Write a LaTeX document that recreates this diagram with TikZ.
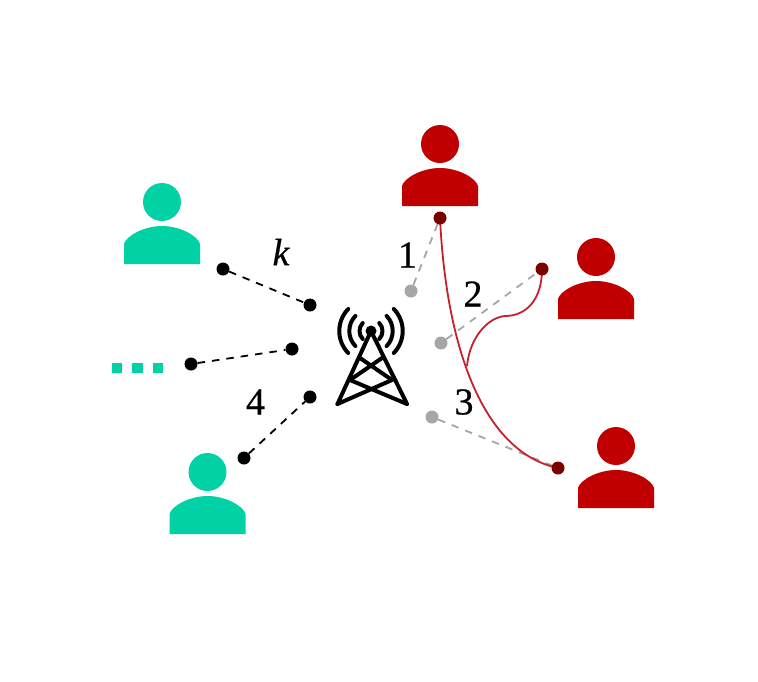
\documentclass[tikz,border=0pt]{standalone}
\usepackage{fontspec}
\newfontfamily\labelfont[FakeBold=0.6]{Liberation Serif}
\definecolor{userred}{HTML}{C00000}
\definecolor{userteal}{HTML}{00D2A6}
\definecolor{linkred}{HTML}{C8202A}
\definecolor{dotdark}{HTML}{7B0000}
\definecolor{dotgrey}{HTML}{A6A6A6}
\tikzset{
  person/.pic={
    \fill[pic actions] (0,0) circle[radius=19];
    \fill[pic actions] (-38,62) -- (-38,42) .. controls (-36,34) and (-18,24) .. (0,24)
       .. controls (18,24) and (36,34) .. (38,42) -- (38,62) -- cycle;
  },
  blackdot/.style={circle,fill=black,inner sep=0pt,minimum size=13pt},
  greydot/.style={circle,fill=dotgrey,inner sep=0pt,minimum size=13pt},
  reddot/.style={circle,fill=dotdark,inner sep=0pt,minimum size=13pt},
  blacklink/.style={black,line width=1.8pt,dash pattern=on 7.5pt off 7pt},
  greylink/.style={dotgrey,line width=1.8pt,dash pattern=on 7.5pt off 7pt},
  redlink/.style={linkred,line width=1.8pt},
  towerline/.style={black,line width=4pt,line cap=round,line join=round},
  numlabel/.style={font=\labelfont\fontsize{38}{38}\selectfont,inner sep=0pt,text=black},
  etc/.style={fill=userteal,draw=none,inner sep=0pt,minimum size=10.5pt},
}
\begin{document}
\begin{tikzpicture}[x=1pt,y=-1pt]
\useasboundingbox (0,0) rectangle (758,681);
% users
\pic[fill=userteal] at (162,202) {person};
\pic[fill=userteal] at (207.5,472) {person};
\pic[fill=userred] at (440,144) {person};
\pic[fill=userred] at (596,257) {person};
\pic[fill=userred] at (616,446) {person};
% ellipsis squares
\node[etc] (s1) at (117,368) {};
\node[etc] (s2) at (137.5,368) {};
\node[etc] (s3) at (158,368) {};
% end points
\node[blackdot] (ka) at (223,269) {};
\node[blackdot] (kb) at (310,305) {};
\node[blackdot] (da) at (191,364) {};
\node[blackdot] (db) at (292,349) {};
\node[blackdot] (fa) at (244,458) {};
\node[blackdot] (fb) at (310,397) {};
\node[greydot] (g1) at (411,291) {};
\node[greydot] (g2) at (441,343) {};
\node[greydot] (g3) at (432,417) {};
\coordinate (r1) at (440,218);
\coordinate (r2) at (542,269);
\coordinate (r3) at (558,468);
\coordinate (join) at (467,366);
\coordinate (bend) at (505,316);
% dashed links
\draw[blacklink] (ka) -- (kb);
\draw[blacklink] (da) -- (db);
\draw[blacklink] (fa) -- (fb);
\draw[greylink] (g1) -- (r1);
\draw[greylink] (g2) -- (r2);
\draw[greylink] (g3) -- (r3);
% interference curves
\draw[redlink] (r1) .. controls (446,345) and (482,452) .. (r3);
\draw[redlink] (join) .. controls (470,335) and (490,317) .. (bend)
   .. controls (526,316) and (542,300) .. (r2);
\node[reddot] (rd1) at (r1) {};
\node[reddot] (rd2) at (r2) {};
\node[reddot] (rd3) at (r3) {};
% tower
\node[circle,fill=black,inner sep=0pt,minimum size=11pt] (apex) at (371,331) {};
\coordinate (ll) at (337.5,404);
\coordinate (rl) at (407,404);
\draw[towerline] (ll) -- (apex.center) -- (rl);
\draw[towerline] (360,358) -- (392,380) (382,358) -- (350,380);
\draw[towerline] (350,380) -- (rl) (392,380) -- (ll);
\foreach \r in {11.5,21.7,31.7}{
  \draw[towerline] (apex.center) ++(44:\r) arc[start angle=44,end angle=-44,radius=\r];
  \draw[towerline] (apex.center) ++(136:\r) arc[start angle=136,end angle=224,radius=\r];
}
% labels
\node[numlabel] (l1) at (407.5,255) {1};
\node[numlabel] (l2) at (473,294) {2};
\node[numlabel] (l3) at (464,402) {3};
\node[numlabel] (l4) at (255.5,402) {4};
\node[numlabel] (lk) at (281,252) {\itshape k};
\end{tikzpicture}
\end{document}
